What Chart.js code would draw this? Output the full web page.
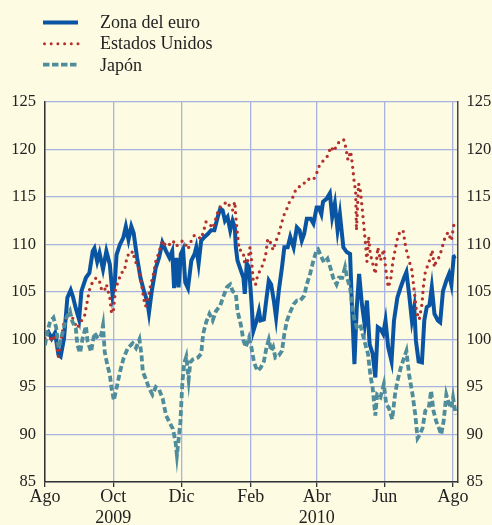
<!DOCTYPE html>
<html>
<head>
<meta charset="utf-8">
<script src="https://cdn.jsdelivr.net/npm/chart.js@4"></script>
<style>
    html, body { margin: 0; padding: 0; background: #fdfbe1; }
    #wrap { position: relative; width: 492px; height: 525px; background: #fdfbe1; overflow: hidden; }
    #chart { position: absolute; left: 0; top: 0; }
    .leg-line { position: absolute; left: 42px; }
    .leg-text { position: absolute; left: 100px; font-family: 'Liberation Serif', serif; font-size: 18px; line-height: 20px; color: #222; white-space: nowrap; }
</style>
</head>
<body>
<div id="wrap">
    <canvas id="chart" width="492" height="525"></canvas>
    <svg class="leg-line" style="top:12px" width="40" height="20"><line x1="1" y1="10.5" x2="36" y2="10.5" stroke="#0a55a3" stroke-width="3.8"/></svg>
    <svg class="leg-line" style="top:34px" width="40" height="20"><line x1="2.5" y1="9.7" x2="36" y2="9.7" stroke="#b3312d" stroke-width="3" stroke-dasharray="0 6.7" stroke-linecap="round"/></svg>
    <svg class="leg-line" style="top:55px" width="40" height="20"><line x1="1" y1="9.7" x2="36" y2="9.7" stroke="#4f8d9c" stroke-width="3.8" stroke-dasharray="6.5 2.5"/></svg>
    <div class="leg-text" style="top:12px">Zona del euro</div>
    <div class="leg-text" style="top:33px">Estados Unidos</div>
    <div class="leg-text" style="top:55px">Japón</div>
</div>
<script>
// days counted from 1 Aug 2009
const tickDays = [0, 61, 122, 184, 243, 304, 365];
const tickLabels = [['Ago'], ['Oct', '2009'], ['Dic'], ['Feb'], ['Abr', '2010'], ['Jun'], ['Ago']];

const euroDays = [0, 3, 6, 9, 12, 14, 17, 20, 23, 25, 27.5, 30.5, 32.6, 36.6, 39.7, 42.7, 44.2, 46.7, 48.8, 51.9, 54.9, 58, 60.4, 62.5, 64, 67, 70, 72.3, 74.7, 77.2, 79.3, 82.4, 85.4, 88.5, 91.5, 93, 95.5, 99, 102, 105, 108.3, 111.3, 113.8, 115.5, 117.5, 119.5, 121.5, 123.5, 125.5, 127.9, 130.9, 133.8, 135.3, 137.4, 139.7, 142.7, 145.6, 148.6, 151.5, 154.5, 156.8, 158.9, 161, 163.3, 165.7, 167.8, 169.8, 170.7, 172.2, 175.1, 177.5, 178.7, 180.5, 182.5, 184.6, 186.4, 189.3, 191.4, 192.8, 195.8, 198.2, 200.2, 202.3, 204.7, 206.7, 209.1, 212, 214.1, 217.1, 219.4, 222.4, 225.3, 227.7, 229.7, 231.8, 234.2, 237.7, 240.1, 243, 245, 247.2, 248.7, 251.8, 254.8, 256.9, 259.3, 261.7, 263.8, 266.9, 269.9, 272.9, 274.4, 276.8, 278.9, 281, 283.5, 285.9, 288, 290.4, 293.1, 295.5, 297.7, 300.1, 302.5, 304.6, 307, 310, 312.2, 315.2, 318.2, 321.2, 323.3, 325.7, 328.2, 330.3, 331.8, 334.2, 337.2, 339.3, 341.5, 343.9, 346, 348.4, 351.4, 353.5, 356, 359, 361.4, 363.5, 365.6, 367.4];
const euroVals = [100.5, 100.8, 100.1, 100.7, 98.4, 98.2, 100.1, 104.4, 105.2, 104.5, 103.3, 102.1, 105.1, 106.5, 107.0, 109.3, 109.6, 108.2, 109.1, 107.4, 109.3, 107.9, 104.7, 106.1, 108.9, 110.0, 110.7, 111.9, 110.5, 111.9, 111.2, 108.6, 106.5, 105.1, 104.0, 102.8, 105.1, 107.5, 108.6, 110.2, 109.3, 108.6, 109.3, 105.4, 108.6, 105.5, 109.0, 109.5, 106.0, 105.4, 108.3, 109.0, 109.7, 108.0, 110.4, 110.8, 111.1, 111.5, 111.5, 112.9, 113.8, 113.6, 112.5, 112.9, 111.5, 112.5, 111.8, 109.7, 108.3, 107.3, 106.5, 104.8, 108.0, 107.6, 104.1, 100.9, 102.0, 103.0, 102.0, 102.1, 104.4, 106.2, 105.8, 104.1, 102.3, 105.1, 107.6, 109.7, 109.7, 110.8, 109.7, 111.8, 111.5, 110.4, 111.1, 112.7, 112.7, 112.2, 113.9, 113.9, 113.2, 114.5, 114.8, 115.4, 112.9, 114.3, 111.5, 113.2, 109.7, 109.2, 109.0, 104.1, 97.4, 103.4, 106.9, 103.7, 101.6, 104.1, 99.5, 98.5, 96.0, 101.3, 101.1, 100.6, 102.0, 99.2, 97.7, 102.0, 104.4, 105.5, 106.5, 107.1, 104.8, 102.0, 103.4, 99.9, 97.7, 97.6, 102.0, 103.4, 103.6, 105.5, 102.7, 102.0, 101.8, 105.1, 106.2, 106.9, 105.8, 108.7, 108.8];

const usDays = [0, 3, 6, 9, 12, 14.3, 16.8, 19.8, 22.9, 25.9, 29, 32, 35.1, 37.5, 39.7, 42.7, 45.8, 48.8, 50.9, 53.4, 54.9, 58, 59.5, 61, 63.1, 65.6, 68, 71.1, 72.3, 74.1, 76.3, 78.4, 80.8, 83.3, 85.4, 86.9, 88.5, 90, 92.4, 94.6, 96.7, 99.1, 102.2, 105.2, 108.3, 111.3, 114.4, 117.4, 120.5, 123.5, 125, 127.9, 130.9, 133.8, 136.8, 139.7, 142.1, 144.1, 147.1, 150, 151.5, 154.5, 157.4, 160.4, 163.3, 165.7, 167.8, 169.8, 170.7, 172.2, 173.7, 175.7, 177.5, 178.7, 181, 183.4, 184.6, 186.4, 188.4, 190.5, 192.8, 195.2, 197.3, 199.3, 201.7, 204.1, 206.1, 209.1, 212, 214.1, 216.5, 218.8, 221.8, 224.7, 227.7, 230.6, 233.6, 237.1, 240.1, 243, 245.4, 247.2, 249.2, 252.2, 255.9, 258.3, 261.3, 264.4, 267.4, 268.9, 271, 273.4, 274.9, 276.4, 277.9, 278.6, 280.5, 282, 284, 286, 288, 289.5, 291, 294, 295.5, 297.7, 300.1, 303.1, 304.6, 307, 309.1, 311.3, 313.7, 316.1, 319.1, 320.3, 322.7, 325.7, 328.2, 330.3, 332.4, 334.8, 337.2, 338.4, 340.2, 343.9, 346.3, 348.4, 349.9, 352.9, 355.3, 357.5, 360.5, 363.5, 365.6, 367.4];
const usVals = [100.1, 100.7, 99.8, 100.5, 98.2, 99.8, 101.7, 102.4, 102.8, 101.9, 101.2, 101.9, 102.3, 103.8, 105.2, 106.1, 106.5, 106.1, 105.1, 105.2, 105.8, 104.4, 102.8, 102.8, 105.4, 106.1, 107.0, 107.2, 108.1, 108.9, 108.8, 109.3, 108.2, 107.7, 106.5, 105.4, 104.2, 103.5, 104.4, 105.8, 106.7, 108.2, 109.3, 110.4, 109.8, 110.0, 110.4, 109.8, 110.2, 110.4, 110.2, 109.5, 110.4, 111.0, 110.8, 110.6, 111.5, 112.4, 112.2, 111.7, 112.2, 113.4, 114.1, 114.3, 114.5, 113.9, 113.6, 114.5, 112.9, 111.1, 109.4, 109.4, 109.0, 108.0, 108.1, 109.7, 108.5, 106.0, 105.8, 106.9, 107.3, 108.0, 108.8, 110.6, 110.2, 109.4, 110.2, 111.1, 112.4, 113.2, 113.8, 114.5, 115.0, 115.9, 116.1, 116.2, 116.8, 116.9, 116.8, 117.5, 118.3, 118.5, 118.9, 119.2, 120.3, 119.8, 120.5, 121.0, 121.0, 120.3, 118.9, 119.8, 118.5, 116.8, 115.5, 111.5, 116.4, 115.8, 113.5, 111.0, 108.2, 110.8, 109.0, 107.6, 106.9, 109.7, 108.3, 109.5, 107.6, 105.5, 106.2, 108.3, 109.7, 111.1, 111.3, 111.5, 109.7, 108.3, 107.3, 105.1, 102.9, 102.1, 103.7, 105.5, 107.1, 108.3, 109.4, 107.6, 108.3, 108.7, 109.7, 110.6, 111.3, 110.4, 112.0, 111.8];

const japanDays = [0, 2.1, 4.6, 7.6, 10.1, 12.2, 14.3, 16.8, 19.2, 22.3, 24.4, 27.5, 29, 31.4, 33.6, 36.6, 38.1, 41.2, 44.2, 47.3, 50.3, 51.9, 53.4, 55.8, 58, 59.5, 61.6, 64, 67.1, 70.2, 74.1, 78.4, 81.4, 84.5, 86.3, 87.5, 90, 93, 96.1, 99.1, 102.2, 105.2, 108.3, 111.3, 114.4, 116.8, 118, 119.9, 121.1, 122.9, 124.5, 126.4, 128.5, 130, 132.3, 136.8, 139.7, 141.5, 144.1, 147.1, 150, 153, 156.8, 159.8, 162.7, 165.7, 167.8, 170.7, 172.2, 175.1, 177.5, 179.6, 182.5, 184.6, 187, 189.9, 192.8, 195.8, 198.2, 200.2, 202.3, 204.1, 206.1, 209.1, 212, 214.1, 216.5, 219.4, 222.4, 225.3, 228.3, 231.8, 234.2, 237.1, 240.1, 243, 244.2, 247.2, 249.6, 252.7, 255.7, 257.8, 260.8, 262.9, 265.9, 268.4, 270.2, 272.9, 275, 276.8, 278.9, 282, 284.1, 286.5, 288.9, 291, 293.1, 295.5, 297.1, 300.1, 303.1, 305.2, 307.6, 310.6, 313.1, 315.2, 318.2, 321.2, 323.3, 325.7, 328.8, 331.2, 333.3, 335.4, 337.8, 340.2, 343.3, 345.4, 347.5, 349.9, 352.3, 354.4, 356.6, 359, 361.4, 363.5, 365, 367.4];
const japanVals = [99.4, 100.8, 101.9, 102.3, 101.2, 99.1, 100.1, 101.2, 102.3, 103.0, 101.9, 101.2, 99.4, 98.6, 100.1, 101.4, 99.8, 98.7, 100.7, 100.1, 100.5, 101.5, 98.7, 97.3, 96.3, 94.9, 93.6, 94.9, 96.6, 98.0, 99.1, 99.6, 99.1, 100.0, 98.4, 96.6, 95.9, 94.9, 94.2, 95.0, 94.7, 93.8, 92.0, 91.3, 90.6, 89.2, 87.8, 89.9, 91.3, 95.5, 97.5, 98.2, 95.8, 97.6, 97.9, 98.1, 98.5, 100.6, 101.8, 102.7, 102.0, 103.0, 103.6, 104.6, 105.5, 105.8, 105.1, 104.8, 103.0, 101.6, 99.9, 99.2, 100.2, 99.2, 97.6, 96.7, 97.0, 97.7, 99.2, 100.0, 98.8, 99.2, 98.1, 98.3, 98.8, 100.6, 102.0, 102.9, 103.7, 104.1, 104.1, 104.6, 105.8, 106.9, 108.3, 109.4, 109.5, 108.7, 108.1, 108.5, 107.4, 106.5, 105.8, 106.5, 106.5, 107.6, 106.5, 105.5, 103.4, 102.0, 101.3, 101.6, 100.6, 99.5, 98.5, 96.3, 94.9, 92.0, 94.2, 93.9, 95.3, 93.2, 92.8, 91.6, 94.2, 95.6, 97.0, 98.1, 98.8, 96.3, 94.2, 92.1, 89.6, 90.0, 90.7, 92.5, 92.8, 94.6, 92.5, 91.4, 90.7, 90.0, 91.4, 94.2, 93.2, 92.8, 93.9, 92.1];

const yTicks = [85, 90, 95, 100, 105, 110, 115, 120, 125];

function pts(days, vals) {
    return days.map((d, i) => ({ x: d, y: vals[i] }));
}

const serifX = { family: "'Liberation Serif', 'Times New Roman', serif", size: 18, lineHeight: 1.17 };
const serifY = { family: "'Liberation Serif', 'Times New Roman', serif", size: 16.5 };
const gridBlue = '#a9b4de';

const bg = {
    id: 'bg',
    beforeDraw(chart) {
        const ctx = chart.ctx;
        ctx.save();
        ctx.fillStyle = '#fdfbe1';
        ctx.fillRect(0, 0, chart.width, chart.height);
        ctx.restore();
    }
};

new Chart(document.getElementById('chart'), {
    type: 'line',
    data: {
        datasets: [
            {
                label: 'Zona del euro',
                data: pts(euroDays, euroVals),
                borderColor: '#0a55a3',
                borderWidth: 4,
                pointRadius: 0,
                tension: 0,
                order: 3
            },
            {
                label: 'Estados Unidos',
                data: pts(usDays, usVals),
                borderColor: '#b3312d',
                borderWidth: 3.3,
                borderDash: [0, 6.5],
                borderCapStyle: 'round',
                pointRadius: 0,
                tension: 0,
                order: 2
            },
            {
                label: 'Japón',
                data: pts(japanDays, japanVals),
                borderColor: '#4f8d9c',
                borderWidth: 3.8,
                borderDash: [6, 3],
                pointRadius: 0,
                tension: 0,
                order: 1
            }
        ]
    },
    options: {
        responsive: false,
        animation: false,
        layout: { padding: { top: 102, right: 0, left: 0, bottom: 0 } },
        plugins: { legend: { display: false }, tooltip: { enabled: false } },
        scales: {
            x: {
                type: 'linear',
                min: 0,
                max: 369,
                afterBuildTicks: scale => {
                    scale.ticks = tickDays.map(v => ({ value: v }));
                },
                afterFit: scale => { scale.height = 43; },
                ticks: {
                    autoSkip: false,
                    maxRotation: 0,
                    padding: 0,
                    color: '#222',
                    font: serifX,
                    callback: (v, i) => tickLabels[i]
                },
                grid: {
                    color: gridBlue,
                    lineWidth: 1.3,
                    tickColor: '#333',
                    tickLength: 5
                },
                border: { color: '#333', width: 1.5 }
            },
            y: {
                position: 'left',
                min: 85,
                max: 125,
                afterBuildTicks: scale => {
                    scale.ticks = yTicks.map(v => ({ value: v }));
                },
                afterFit: scale => { scale.width = 45; },
                ticks: { padding: 9, color: '#222', font: serifY },
                grid: { color: gridBlue, lineWidth: 1.3, drawTicks: false },
                border: { color: '#333', width: 1.5 }
            },
            y2: {
                position: 'right',
                min: 85,
                max: 125,
                afterBuildTicks: scale => {
                    scale.ticks = yTicks.map(v => ({ value: v }));
                },
                afterFit: scale => { scale.width = 34.5; },
                ticks: { padding: 9, color: '#222', font: serifY },
                grid: { display: false, drawTicks: false },
                border: { color: '#444', width: 1.5 }
            }
        }
    },
    plugins: [bg]
});
</script>
</body>
</html>
